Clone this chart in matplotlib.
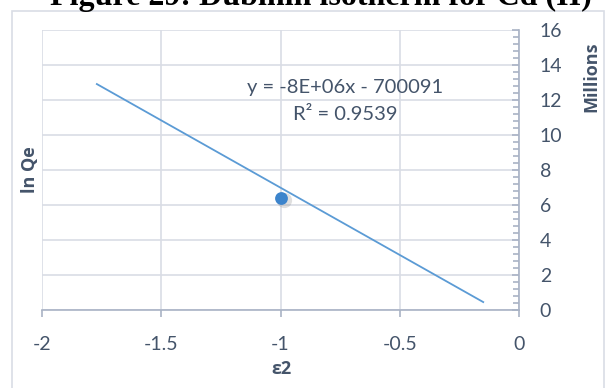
import matplotlib.pyplot as plt
from matplotlib.patches import Rectangle
from matplotlib.ticker import MultipleLocator, FuncFormatter

# data (y values in units, shown in millions)
eps2 = [-1.0]
ln_qe = [6.4e6]
slope = -7.69e6
intercept = -700091
trend_x = [-1.77, -0.15]
x_ticks = [-2, -1.5, -1, -0.5, 0]

text_col = "#44546A"
grid_col = "#D9DDE5"
axis_col = "#A9B3C5"

fig = plt.figure(figsize=(6.07, 3.88), dpi=100)
fig.patches.append(Rectangle((12 / 607, -0.05), 592 / 607, 1.05 - 11 / 388,
                             transform=fig.transFigure, fill=False,
                             edgecolor="#D9DDE5", linewidth=1.2))

ax = fig.add_axes([42 / 607, 1 - 310 / 388, 477 / 607, 280 / 388])

trend_y = [slope * x + intercept for x in trend_x]
ax.plot(trend_x, trend_y, color="#5B9BD5", linewidth=1.3, zorder=3)

# soft shadow behind the point
ax.scatter([x + 0.014 for x in eps2], [y - 0.14e6 for y in ln_qe], s=120,
           color="#808080", alpha=0.25, linewidths=0, zorder=3)
ax.scatter(eps2, ln_qe, s=85, color="#3C84CC", linewidths=0, zorder=4)

ax.set_xlim(-2, 0)
ax.set_ylim(0, 16e6)
ax.set_xticks(x_ticks)
ax.set_xticklabels(["-2", "-1.5", "-1", "-0.5", "0"])
ax.yaxis.set_major_locator(MultipleLocator(2e6))
ax.yaxis.set_minor_locator(MultipleLocator(0.4e6))
ax.yaxis.set_major_formatter(FuncFormatter(lambda v, p: f"{v / 1e6:.0f}"))
ax.yaxis.tick_right()

ax.grid(True, color=grid_col, linewidth=1.2)
ax.set_axisbelow(True)
for side in ["top", "left"]:
    ax.spines[side].set_visible(False)
ax.spines["right"].set_color(axis_col)
ax.spines["bottom"].set_color(axis_col)
ax.spines["right"].set_linewidth(1.2)
ax.spines["bottom"].set_linewidth(1.2)

ax.tick_params(axis="x", direction="out", length=5, width=1.2, color=axis_col,
               pad=14, labelsize=14, labelcolor=text_col)
ax.tick_params(axis="y", which="both", direction="in", color=axis_col, width=1.2,
               pad=15, labelsize=14, labelcolor=text_col)
ax.tick_params(axis="y", which="major", length=5)
ax.tick_params(axis="y", which="minor", length=4)
for lab in ax.get_xticklabels() + ax.get_yticklabels():
    lab.set_family("Lato")

fig.text(282 / 607, 1 - 369 / 388, "ε2", ha="center", va="center",
         fontsize=13, fontweight="bold", family="Open Sans", color=text_col)
fig.text(30 / 607, 1 - 170 / 388, "ln Qe", rotation=90, ha="center", va="center",
         fontsize=13, fontweight="bold", family="Open Sans", color=text_col)
fig.text(591 / 607, 1 - 77 / 388, "Millions", rotation=90, ha="center", va="center",
         fontsize=13, fontweight="bold", family="Open Sans", color=text_col)

ax.text(345 / 607, 1 - 87 / 388, "y = -8E+06x - 700091", transform=fig.transFigure,
        ha="center", va="center", fontsize=14.5, family="Lato", color=text_col)
ax.text(345 / 607, 1 - 114 / 388, "R² = 0.9539", transform=fig.transFigure,
        ha="center", va="center", fontsize=14.5, family="Lato", color=text_col)

fig.text(321 / 607, 1 - 5 / 388, "Figure 29: Dubinin isotherm for Cd (II)",
         ha="center", va="baseline", fontsize=23, fontweight="bold",
         family="Liberation Serif", color="black")

fig.savefig("out.png", dpi=100)
